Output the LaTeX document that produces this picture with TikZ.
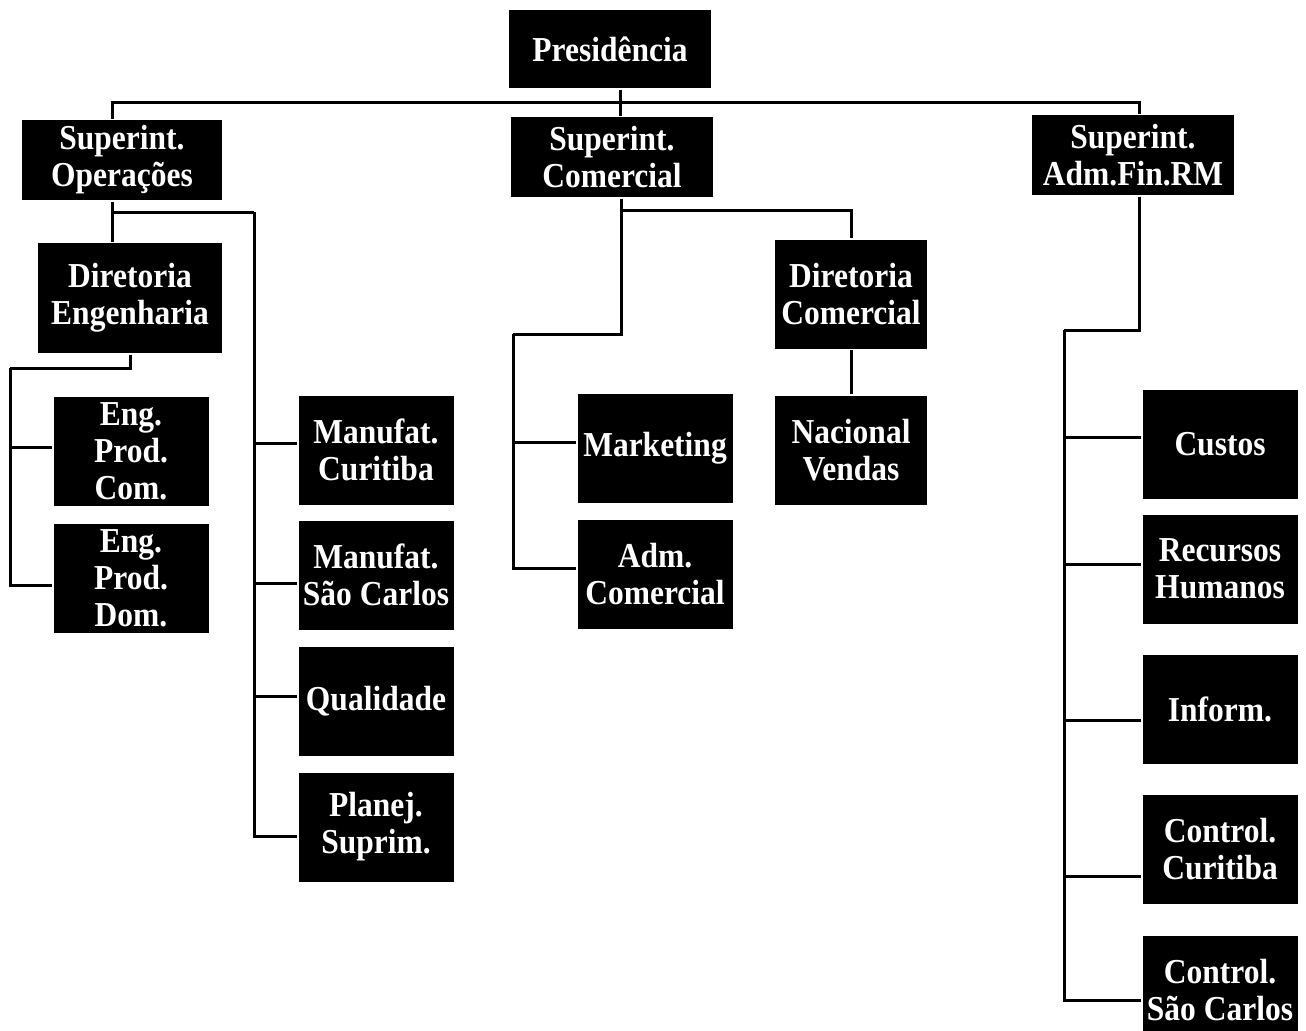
\documentclass[tikz,border=0pt]{standalone}
\usepackage{fontspec}
\setmainfont[FakeStretch=0.9]{Liberation Serif}
\usetikzlibrary{positioning}

\begin{document}
\begin{tikzpicture}[
  x=0.5pt, y=-0.5pt,
  line width=1.5pt,
  box/.style={fill=black, text=white, align=center, inner sep=0pt,
  font=\fontsize{17.5}{18.5}\selectfont\bfseries},
  headbox/.style={box, minimum width=101pt, minimum height=40pt},
  unitbox/.style={box, minimum width=77.5pt, minimum height=54.5pt}
]
  \useasboundingbox (0,0) rectangle (1306,1030);

  \node[headbox, minimum height=39pt] (pres) at (610,49) {Presidência};
  \node[headbox, minimum width=100pt] (supop) at (122,160) {Superint.\\Operações};
  \node[headbox] (supcom) at (612,157) {Superint.\\Comercial};
  \node[headbox] (supadm) at (1133,155) {Superint.\\Adm.Fin.RM};

  \node[box, minimum width=92pt, minimum height=55pt] (direng) at (130,298) {Diretoria\\Engenharia};
  \node[unitbox] (engcom) at (131,451) {Eng.\\Prod.\\Com.};
  \node[unitbox, below=7.5pt of engcom] (engdom) {Eng.\\Prod.\\Dom.};

  \node[unitbox] (mancur) at (376,450) {Manufat.\\Curitiba};
  \node[unitbox, below=6.5pt of mancur] (mansc) {Manufat.\\São Carlos};
  \node[unitbox, below=7pt of mansc] (qual) {Qualidade};
  \node[unitbox, below=7pt of qual] (planej) {Planej.\\Suprim.};

  \node[unitbox, minimum width=76pt] (dircom) at (851,294) {Diretoria\\Comercial};
  \node[unitbox, minimum width=76pt, below=22pt of dircom] (nacvend) {Nacional\\Vendas};
  \node[unitbox] (mkt) at (655,448) {Marketing};
  \node[unitbox, below=7pt of mkt] (admcom) {Adm.\\Comercial};

  \node[unitbox] (custos) at (1220,444) {Custos};
  \node[unitbox, below=6.5pt of custos] (rh) {Recursos\\Humanos};
  \node[unitbox, below=14pt of rh] (inform) {Inform.};
  \node[unitbox, below=14pt of inform] (ctcur) {Control.\\Curitiba};
  \node[unitbox, below=14.5pt of ctcur] (ctsc) {Control.\\São Carlos};

  % top level
  \coordinate (bus) at (620,102);
  \draw (pres.south -| bus) -- (supcom.north -| bus);
  \draw ([xshift=-5pt]supop.north) |- (bus) -| ([xshift=3pt]supadm.north);

  % operacoes
  \coordinate (opfork) at (112,212);
  \coordinate (opspine) at (254,212);
  \coordinate (engspine) at (10,368);
  \draw ([xshift=-5pt]supop.south) -- (direng.north -| opfork);
  \draw (opfork) -- (opspine);
  \foreach \n/\s in {mancur/3.5pt, mansc/-4pt, qual/2.5pt, planej/-4.5pt}
    \draw (opspine) |- ([yshift=\s]\n.west);
  \draw (direng.south) |- (engspine);
  \foreach \n/\s in {engcom/2pt, engdom/-3.5pt}
    \draw (engspine) |- ([yshift=\s]\n.west);

  % comercial
  \coordinate (comfork) at (621,210);
  \coordinate (comspine) at (513,334);
  \draw (supcom.south -| comfork) -- (comfork) -| (dircom.north);
  \draw (comfork) |- (comspine);
  \foreach \n/\s in {mkt/3pt, admcom/3pt}
    \draw (comspine) |- ([yshift=\s]\n.west);
  \draw (dircom.south) -- (dircom.south |- nacvend.north);

  % adm. fin.
  \coordinate (admspine) at (1064,330);
  \draw ([xshift=3pt]supadm.south) |- (admspine);
  \foreach \n/\s in {custos/3.5pt, rh/2.5pt, inform/-5.5pt, ctcur/-13.5pt, ctsc/-5pt}
    \draw (admspine) |- ([yshift=\s]\n.west);
\end{tikzpicture}
\end{document}
